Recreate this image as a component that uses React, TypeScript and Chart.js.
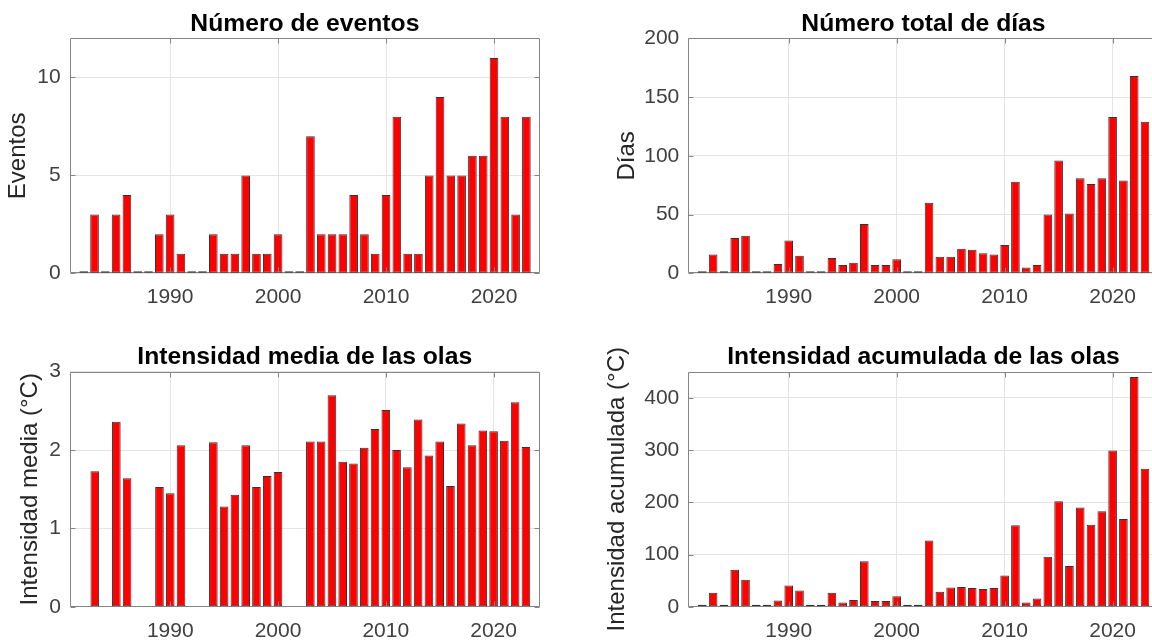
import React, { useEffect, useRef } from "react";
import { Chart, registerables } from "chart.js";

Chart.register(...registerables);

const years = [
  1982, 1983, 1984, 1985, 1986, 1987, 1988, 1989, 1990, 1991,
  1992, 1993, 1994, 1995, 1996, 1997, 1998, 1999, 2000, 2001,
  2002, 2003, 2004, 2005, 2006, 2007, 2008, 2009, 2010, 2011,
  2012, 2013, 2014, 2015, 2016, 2017, 2018, 2019, 2020, 2021,
  2022, 2023,
];

const numeroEventos = [
  0, 3, 0, 3, 4, 0, 0, 2, 3, 1,
  0, 0, 2, 1, 1, 5, 1, 1, 2, 0,
  0, 7, 2, 2, 2, 4, 2, 1, 4, 8,
  1, 1, 5, 9, 5, 5, 6, 6, 11, 8,
  3, 8,
];

const numeroDias = [
  0, 16, 0, 30, 32, 0, 0, 8, 28, 15,
  0, 0, 13, 7, 9, 42, 7, 7, 12, 0,
  0, 60, 14, 14, 21, 20, 17, 16, 24, 78,
  5, 7, 50, 96, 51, 81, 76, 81, 133, 79,
  168, 129,
];

const intensidadMedia = [
  null, 1.73, null, 2.36, 1.64, null, null, 1.53, 1.45, 2.06,
  null, null, 2.10, 1.28, 1.43, 2.06, 1.53, 1.67, 1.72, null,
  null, 2.11, 2.11, 2.70, 1.85, 1.83, 2.03, 2.27, 2.51, 2.00,
  1.78, 2.39, 1.93, 2.11, 1.54, 2.34, 2.06, 2.25, 2.24, 2.12,
  2.61, 2.04,
];

const intensidadAcumulada = [
  0, 27, 0, 71, 52, 0, 0, 12, 41, 31,
  0, 0, 27, 8, 13, 87, 11, 11, 20, 0,
  0, 127, 29, 37, 38, 36, 34, 36, 60, 156,
  8, 16, 96, 202, 78, 190, 157, 183, 299, 168,
  440, 264,
];

const xTickLabels = [1990, 2000, 2010, 2020];
const ticksEventos = [0, 5, 10];
const ticksDias = [0, 50, 100, 150, 200];
const ticksMedia = [0, 1, 2, 3];
const ticksAcumulada = [0, 100, 200, 300, 400];

const X_MIN = 1980.7;
const X_MAX = 2024.26;
const FONT = "'Liberation Sans', Arial, Helvetica, sans-serif";
const AXIS_COLOR = "#858585";
const GRID_COLOR = "#e4e4e4";

type PanelCfg = {
  title: string;
  ylabel: string;
  values: (number | null)[];
  yMax: number;
  yTicks: number[];
  cx: number;
  cy: number;
  cw: number;
  ch: number;
  areaLeft: number;
  areaRight: number;
  areaTop: number;
  areaBottom: number;
  titlePadTop: number;
  ylabelPad: number;
};

const panels: PanelCfg[] = [
  {
    title: "Número de eventos",
    ylabel: "Eventos",
    values: numeroEventos,
    yMax: 12,
    yTicks: ticksEventos,
    cx: 0, cy: 0, cw: 576, ch: 320,
    areaLeft: 69.7, areaRight: 540, areaTop: 38.3, areaBottom: 273.3,
    titlePadTop: 9,
    ylabelPad: 3.5,
  },
  {
    title: "Número total de días",
    ylabel: "Días",
    values: numeroDias,
    yMax: 200,
    yTicks: ticksDias,
    cx: 576, cy: 0, cw: 583, ch: 320,
    areaLeft: 112.3, areaRight: 582.6, areaTop: 38.3, areaBottom: 273.3,
    titlePadTop: 9,
    ylabelPad: 37,
  },
  {
    title: "Intensidad media de las olas",
    ylabel: "Intensidad media (°C)",
    values: intensidadMedia,
    yMax: 3,
    yTicks: ticksMedia,
    cx: 0, cy: 320, cw: 576, ch: 321,
    areaLeft: 70, areaRight: 539.5, areaTop: 51.7, areaBottom: 286.8,
    titlePadTop: 22,
    ylabelPad: 15.5,
  },
  {
    title: "Intensidad acumulada de las olas",
    ylabel: "Intensidad acumulada (°C)",
    values: intensidadAcumulada,
    yMax: 450,
    yTicks: ticksAcumulada,
    cx: 576, cy: 320, cw: 583, ch: 321,
    areaLeft: 112.3, areaRight: 582.6, areaTop: 51.7, areaBottom: 286.8,
    titlePadTop: 22,
    ylabelPad: 26.5,
  },
];

const boxPlugin = {
  id: "matlabBox",
  beforeDatasetsDraw(chart: any) {
    const { ctx, chartArea } = chart;
    const { left, right, top, bottom } = chartArea;
    const L = Math.round(left) + 0.5;
    const R = Math.round(right) - 0.5;
    const T = Math.round(top) + 0.5;
    const B = Math.round(bottom) - 0.5;
    ctx.save();
    ctx.strokeStyle = AXIS_COLOR;
    ctx.lineWidth = 1;
    ctx.beginPath();
    ctx.moveTo(L, T);
    ctx.lineTo(R, T);
    ctx.lineTo(R, B);
    ctx.lineTo(L, B);
    ctx.closePath();
    ctx.stroke();
    ctx.restore();
  },
  afterDatasetsDraw(chart: any) {
    const { ctx, chartArea } = chart;
    const { left, right, top, bottom } = chartArea;
    const xs = chart.scales.x;
    const ys = chart.scales.y;
    const L = Math.round(left) + 0.5;
    const R = Math.round(right) - 0.5;
    const T = Math.round(top) + 0.5;
    const B = Math.round(bottom) - 0.5;
    ctx.save();
    ctx.strokeStyle = AXIS_COLOR;
    ctx.lineWidth = 1;
    const tl = 5;
    ctx.beginPath();
    for (const t of xs.ticks) {
      const px = Math.round(xs.getPixelForValue(t.value)) + 0.5;
      ctx.moveTo(px, B);
      ctx.lineTo(px, B - tl);
      ctx.moveTo(px, T);
      ctx.lineTo(px, T + tl);
    }
    for (const t of ys.ticks) {
      const py = Math.round(ys.getPixelForValue(t.value)) + 0.5;
      ctx.moveTo(L, py);
      ctx.lineTo(L + tl, py);
      ctx.moveTo(R, py);
      ctx.lineTo(R - tl, py);
    }
    ctx.stroke();
    ctx.restore();
  },
};

function buildChart(canvas: HTMLCanvasElement, p: PanelCfg) {
  const data = years.map((yr, i) => ({ x: yr, y: p.values[i] }));
  return new Chart(canvas, {
    type: "bar",
    data: {
      datasets: [
        {
          data: data as any,
          backgroundColor: "#ff0000",
          borderColor: "#333333",
          borderWidth: 1,
          borderSkipped: false,
          barPercentage: 0.8,
          categoryPercentage: 1,
          minBarLength: 2,
        },
      ],
    },
    plugins: [boxPlugin],
    options: {
      responsive: false,
      animation: false,
      devicePixelRatio: 1,
      layout: {
        padding: { left: 0, top: 0, right: p.cw - p.areaRight, bottom: 0 },
      },
      plugins: {
        legend: { display: false },
        tooltip: { enabled: false },
        title: {
          display: true,
          text: p.title,
          fullSize: false,
          color: "#000000",
          font: { family: FONT, size: 24.7, weight: "bold", lineHeight: 1.2 },
          padding: { top: p.titlePadTop, bottom: p.areaTop - p.titlePadTop - 24.7 * 1.2 },
        },
      },
      scales: {
        x: {
          type: "linear",
          min: X_MIN,
          max: X_MAX,
          offset: false,
          grid: { color: GRID_COLOR, drawTicks: false, offset: false, lineWidth: 1 },
          border: { display: false },
          ticks: {
            color: "#404040",
            font: { family: FONT, size: 21, lineHeight: 1.2 },
            padding: 11.5,
            maxRotation: 0,
            autoSkip: false,
            callback: (v: any) => String(v),
          },
          afterBuildTicks: (s: any) => {
            s.ticks = xTickLabels.map((v) => ({ value: v }));
          },
          afterFit: (s: any) => {
            s.height = p.ch - p.areaBottom;
          },
        },
        y: {
          type: "linear",
          min: 0,
          max: p.yMax,
          grid: { color: GRID_COLOR, drawTicks: false, lineWidth: 1 },
          border: { display: false },
          ticks: {
            color: "#404040",
            font: { family: FONT, size: 21, lineHeight: 1.2 },
            padding: 9,
            callback: (v: any) => String(v),
          },
          title: {
            display: true,
            text: p.ylabel,
            color: "#262626",
            font: { family: FONT, size: 24, lineHeight: 1.2 },
            padding: { top: p.ylabelPad, bottom: 0 },
          },
          afterBuildTicks: (s: any) => {
            s.ticks = p.yTicks.map((v) => ({ value: v }));
          },
          afterFit: (s: any) => {
            s.width = p.areaLeft;
          },
        },
      },
    } as any,
  });
}

export default function App() {
  const refs = useRef<(HTMLCanvasElement | null)[]>([]);

  useEffect(() => {
    const charts = panels.map((p, i) => buildChart(refs.current[i] as HTMLCanvasElement, p));
    return () => {
      charts.forEach((c) => c.destroy());
    };
  }, []);

  return (
    <div
      style={{
        position: "fixed",
        left: 0,
        top: 0,
        width: 1152,
        height: 641,
        overflow: "hidden",
        background: "#ffffff",
      }}
    >
      {panels.map((p, i) => (
        <canvas
          key={i}
          ref={(el) => {
            refs.current[i] = el;
          }}
          width={p.cw}
          height={p.ch}
          style={{ position: "absolute", left: p.cx, top: p.cy, width: p.cw, height: p.ch }}
        />
      ))}
    </div>
  );
}
